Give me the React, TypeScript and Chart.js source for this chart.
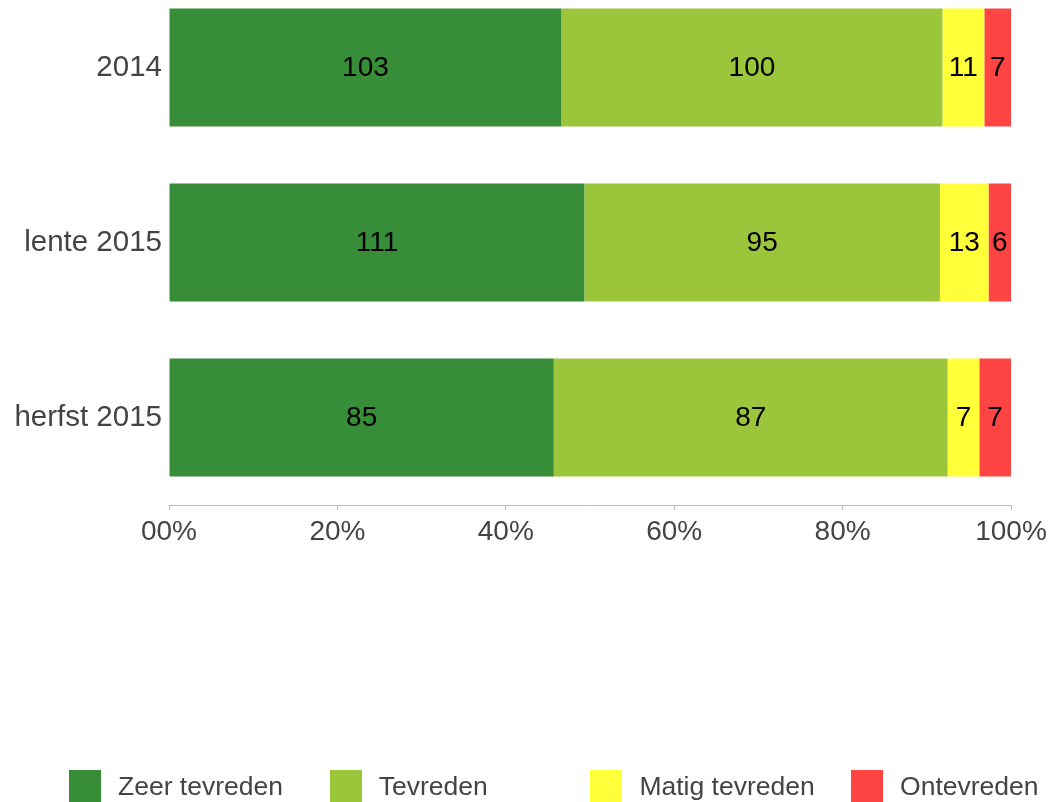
import React, { useEffect, useRef } from "react";
import { Chart, registerables } from "chart.js";

Chart.register(...registerables);

const categories = ["2014", "lente 2015", "herfst 2015"];
const seriesNames = ["Zeer tevreden", "Tevreden", "Matig tevreden", "Ontevreden"];
const seriesColors = ["#388E38", "#9BC63C", "#FFFF3A", "#FF4444"];
const zeerTevreden = [103, 111, 85];
const tevreden = [100, 95, 87];
const matigTevreden = [11, 13, 7];
const ontevreden = [7, 6, 7];
const tickValues = [0, 20, 40, 60, 80, 100];
const tickLabels = ["00%", "20%", "40%", "60%", "80%", "100%"];

const FONT = "'Liberation Sans', Arial, Helvetica, sans-serif";
const TEXT = "#444444";

const counts = [zeerTevreden, tevreden, matigTevreden, ontevreden];
const totals = categories.map((_, i) => counts.reduce((s, arr) => s + arr[i], 0));

const valueLabels = {
  id: "valueLabels",
  afterDatasetsDraw(chart: any) {
    const ctx = chart.ctx;
    ctx.save();
    ctx.font = `28px ${FONT}`;
    ctx.fillStyle = "#000000";
    ctx.textAlign = "center";
    ctx.textBaseline = "middle";
    chart.data.datasets.forEach((ds: any, di: number) => {
      const meta = chart.getDatasetMeta(di);
      meta.data.forEach((el: any, i: number) => {
        const p = el.getProps(["x", "y", "base"], true);
        const cx = (p.x + p.base) / 2;
        ctx.fillText(String(ds.counts[i]), cx, p.y + 1);
      });
    });
    ctx.restore();
  },
};

export default function App() {
  const ref = useRef<HTMLCanvasElement | null>(null);

  useEffect(() => {
    if (!ref.current) return;
    const chart = new Chart(ref.current, {
      type: "bar",
      data: {
        labels: categories,
        datasets: counts.map((arr, k) => ({
          label: seriesNames[k],
          data: arr.map((v, i) => (v / totals[i]) * 100),
          counts: arr,
          backgroundColor: seriesColors[k],
          borderWidth: 0,
          categoryPercentage: 1,
          barPercentage: 0.674,
        })) as any,
      },
      options: {
        indexAxis: "y",
        responsive: false,
        animation: false,
        maintainAspectRatio: false,
        layout: { padding: { left: 0, right: 41, top: 0, bottom: 0 } },
        plugins: {
          legend: { display: false },
          tooltip: { enabled: false },
        },
        scales: {
          x: {
            stacked: true,
            min: 0,
            max: 100,
            afterBuildTicks(scale: any) {
              scale.ticks = tickValues.map((v) => ({ value: v }));
            },
            afterFit(scale: any) {
              scale.height = 297;
            },
            ticks: {
              font: { family: FONT, size: 28 },
              color: TEXT,
              padding: 5,
              maxRotation: 0,
              callback: (v: any) => {
                const idx = tickValues.indexOf(Number(v));
                return idx >= 0 ? tickLabels[idx] : "";
              },
            },
            grid: {
              display: true,
              drawOnChartArea: false,
              drawTicks: true,
              tickLength: 5,
              color: "#bbbbbb",
            },
            border: { display: true, color: "#bbbbbb", width: 1 },
          },
          y: {
            stacked: true,
            afterFit(scale: any) {
              scale.width = 169;
              scale.paddingTop = 0;
              scale.paddingBottom = 0;
            },
            ticks: {
              font: { family: FONT, size: 29.5 },
              color: TEXT,
              padding: 7,
            },
            grid: { display: false, drawTicks: false },
            border: { display: false },
          },
        },
      },
      plugins: [valueLabels],
    });
    return () => chart.destroy();
  }, []);

  return (
    <div style={{ position: "absolute", left: 0, top: 0, width: 1052, height: 802, overflow: "hidden" }}>
      <div style={{ position: "absolute", left: 0, top: -20, width: 1052, height: 822 }}>
        <canvas ref={ref} width={1052} height={822} />
      </div>
      <div style={{ position: "absolute", left: 0, top: 770, width: 1052, height: 40 }}>
        {seriesNames.map((name, k) => (
          <div
            key={name}
            style={{
              position: "absolute",
              left: 69 + k * 260.7,
              top: 0,
              display: "flex",
              alignItems: "center",
              height: 32,
              whiteSpace: "nowrap",
            }}
          >
            <span style={{ display: "inline-block", width: 32, height: 32, background: seriesColors[k] }} />
            <span
              style={{
                marginLeft: 17,
                fontFamily: FONT,
                fontSize: 26.5,
                color: TEXT,
                lineHeight: "32px",
              }}
            >
              {name}
            </span>
          </div>
        ))}
      </div>
    </div>
  );
}
